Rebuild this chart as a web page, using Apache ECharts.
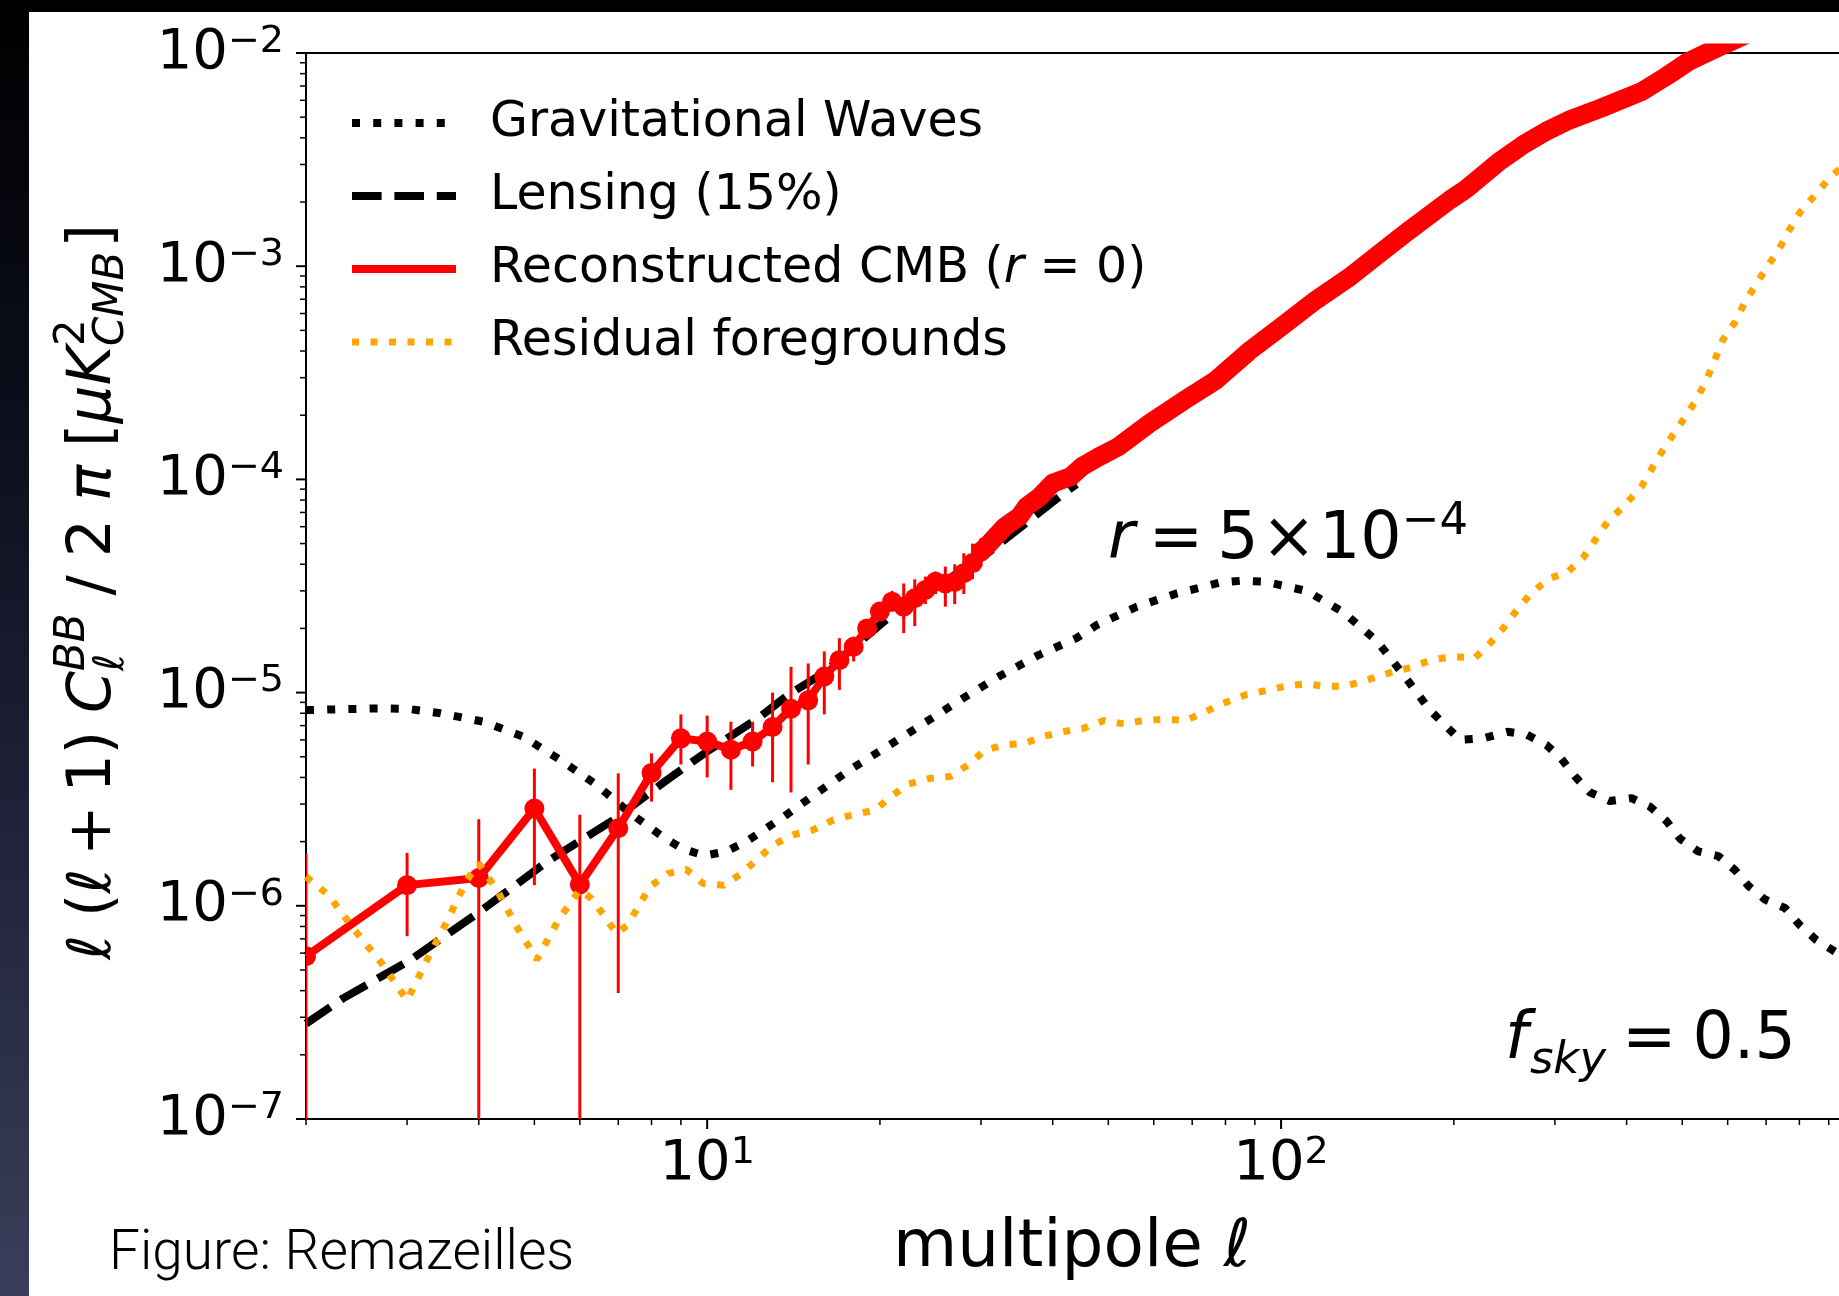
<!DOCTYPE html>
<html><head><meta charset="utf-8">
<script src="https://cdn.jsdelivr.net/npm/echarts/dist/echarts.min.js"></script>
<style>
html,body{margin:0;padding:0;background:#000;width:1839px;height:1296px;overflow:hidden}
#strip{position:absolute;left:0;top:0;width:29px;height:1296px;background:linear-gradient(#000 0%,#0b0d1a 30%,#20233a 65%,#3a3e5a 100%)}
#paper{position:absolute;left:29px;top:12px;width:1810px;height:1284px;background:#fff}
#chart{position:absolute;left:0;top:0;width:1839px;height:1296px}
</style></head><body>
<div id="strip"></div><div id="paper"></div><div id="chart"></div>
<script>
// ---------------- DATA ----------------
const GW_ELL = [2,2.66,3,3.43,4.08,4.79,5.55,6.42,7.34,8.45,9.1,9.9,10.8,11.7,13.6,15.5,17.9,20.8,24.1,27.9,32.4,37.8,44,47.7,56.1,65.8,78.3,85.5,93.8,110.7,127.9,146.8,163.5,181.7,205,225,248,268,290,308,325,345,374,408,440,470,496,533,578,618,652,697,755,802,857,923,1000];
const GW_VAL = [8.28e-6,8.43e-6,8.4e-6,8.0e-6,7.3e-6,6.2e-6,4.83e-6,3.69e-6,2.72e-6,2.07e-6,1.84e-6,1.72e-6,1.8e-6,2.0e-6,2.62e-6,3.37e-6,4.42e-6,5.68e-6,7.3e-6,9.4e-6,1.2e-5,1.5e-5,1.8e-5,2.07e-5,2.53e-5,2.92e-5,3.28e-5,3.35e-5,3.31e-5,3.0e-5,2.4e-5,1.75e-5,1.21e-5,8.28e-6,6.0e-6,6.1e-6,6.55e-6,6.35e-6,5.68e-6,4.89e-6,4.05e-6,3.41e-6,3.1e-6,3.2e-6,2.91e-6,2.49e-6,2.06e-6,1.8e-6,1.71e-6,1.47e-6,1.24e-6,1.07e-6,9.77e-7,8.1e-7,6.9e-7,6.1e-7,5.2e-7];

const LENS_ELL = [2,2.32,3.04,4.02,5.26,6.87,8.51,10,12.2,13.95,15.9,20.8,30.3,41.8,44];
const LENS_VAL = [2.8e-7,3.68e-7,5.57e-7,9.4e-7,1.61e-6,2.53e-6,3.89e-6,5.3e-6,7.5e-6,9.9e-6,1.23e-5,2.27e-5,4.35e-5,8.6e-5,9.5e-5];

const RECON_ELL = [2,3,4,5,6,7,8,9,10,11,12,13,14,15,16,17,18,19,20,21,22,23,24,25,26,27,28,29,30];
const RECON_VAL = [5.8e-7,1.25e-6,1.35e-6,2.86e-6,1.26e-6,2.31e-6,4.2e-6,6.1e-6,5.9e-6,5.4e-6,5.9e-6,6.9e-6,8.4e-6,9.2e-6,1.19e-5,1.42e-5,1.64e-5,2.0e-5,2.4e-5,2.67e-5,2.53e-5,2.77e-5,3.03e-5,3.31e-5,3.25e-5,3.3e-5,3.63e-5,4.05e-5,4.59e-5];
const RECON_LO  = [1e-9,7.2e-7,1e-9,1.25e-6,1e-9,3.9e-7,3.08e-6,4.6e-6,4.0e-6,3.5e-6,4.5e-6,3.8e-6,3.4e-6,4.6e-6,7.9e-6,1.03e-5,1.4e-5,1.85e-5,2.2e-5,2.4e-5,1.9e-5,2.05e-5,2.6e-5,2.9e-5,2.53e-5,2.6e-5,2.9e-5,3.4e-5,3.9e-5];
const RECON_HI  = [1.76e-6,1.77e-6,2.55e-6,4.4e-6,2.67e-6,4.18e-6,5.19e-6,7.9e-6,7.8e-6,7.3e-6,7.3e-6,1.0e-5,1.32e-5,1.37e-5,1.56e-5,1.8e-5,1.83e-5,2.15e-5,2.6e-5,3.0e-5,3.25e-5,3.4e-5,3.5e-5,3.7e-5,3.9e-5,4.0e-5,4.5e-5,5.0e-5,5.3e-5];

const RECON_HIGH_ELL = [30,31,33,35,36,38,40,43,45,48,52,59,68,77,88,101,115,132,151,166,197,210,240,265,290,318,360,425,470,512,564,680];
const RECON_HIGH_VAL = [4.59e-5,5.0e-5,6.0e-5,6.7e-5,7.45e-5,8.3e-5,9.6e-5,1.03e-4,1.15e-4,1.27e-4,1.42e-4,1.83e-4,2.36e-4,2.92e-4,4.0e-4,5.3e-4,6.94e-4,8.93e-4,1.19e-3,1.45e-3,2.05e-3,2.3e-3,3.1e-3,3.73e-3,4.3e-3,4.85e-3,5.5e-3,6.6e-3,7.8e-3,9.1e-3,1.03e-2,1.3e-2];

const FG_ELL = [2,2.19,2.42,2.71,3,3.25,3.52,3.81,4,4.3,4.66,5.05,5.51,6,6.29,6.6,6.95,7.25,7.59,7.95,8.56,9.2,9.85,10.7,11.4,12.2,13.04,14.1,15.3,16.6,17.9,19.6,20.9,22.4,24.4,26.5,28.5,30.5,33,35.8,38.3,41.8,45.3,49.1,53.2,57.6,62.4,68.2,73.2,79.3,86.7,93.8,101.6,110.1,119.3,129.1,141.7,156.6,169.6,183.7,199,218,232,244,257,271,292,316,336,354,371,395,425,457,482,505,529,551,570,589,618,643,674,702,735,765,802,851,904,960];
const FG_VAL = [1.37e-6,1.12e-6,7.8e-7,5.37e-7,3.6e-7,5.57e-7,8.43e-7,1.32e-6,1.58e-6,1.19e-6,7.97e-7,5.6e-7,8.6e-7,1.19e-6,1.08e-6,9.06e-7,7.4e-7,8.1e-7,9.9e-7,1.23e-6,1.42e-6,1.48e-6,1.27e-6,1.25e-6,1.4e-6,1.64e-6,1.93e-6,2.15e-6,2.27e-6,2.53e-6,2.67e-6,2.81e-6,3.25e-6,3.72e-6,3.96e-6,4.04e-6,4.58e-6,5.38e-6,5.68e-6,5.78e-6,6.21e-6,6.56e-6,6.8e-6,7.4e-6,7.13e-6,7.4e-6,7.5e-6,7.4e-6,8.05e-6,8.9e-6,9.75e-6,1.02e-5,1.07e-5,1.1e-5,1.07e-5,1.07e-5,1.15e-5,1.25e-5,1.32e-5,1.43e-5,1.47e-5,1.46e-5,1.72e-5,2.01e-5,2.42e-5,2.87e-5,3.41e-5,3.68e-5,4.3e-5,5.28e-5,6.36e-5,7.45e-5,9.3e-5,1.3e-4,1.62e-4,1.95e-4,2.36e-4,2.93e-4,3.64e-4,4.53e-4,5.46e-4,6.79e-4,8.3e-4,9.9e-4,1.18e-3,1.45e-3,1.79e-3,2.15e-3,2.6e-3,3.0e-3];

const LEGEND_NAMES = ['Gravitational Waves','Lensing (15%)','Reconstructed CMB (r = 0)','Residual foregrounds'];

// axis ranges and tick positions
const X_MIN = 2, X_MAX = 1000, Y_MIN = 1e-7, Y_MAX = 1e-2;
const TICK_MANTISSA = [2,3,4,5,6,7,8,9];
const X_DECADES = [1,10,100];
const X_MAJOR = [10,100];
const Y_DECADES = [1e-7,1e-6,1e-5,1e-4,1e-3];
const Y_MAJOR = [1e-7,1e-6,1e-5,1e-4,1e-3,1e-2];

// line styles
const GW_STYLE = {color: '#000', width: 8, type: [8, 13.2], cap: 'butt'};
const LENS_STYLE = {color: '#000', width: 8, type: [29.6, 12.8], cap: 'butt'};
const RECON_STYLE = {color: '#ff0000', width: 8, type: 'solid'};
const FG_STYLE = {color: '#ffa500', width: 7, type: [7, 11.5], cap: 'butt'};

// ---------------- helpers ----------------
const zip = (a,b) => a.map((v,i) => [v, b[i]]);
const FAM = '"DejaVu Sans"';
const MCTX = document.createElement('canvas').getContext('2d');
function fnt(size, it, fam){ return (it ? 'italic ' : '') + size + 'px ' + (fam || FAM); }
function tw(t, size, it){ MCTX.font = fnt(size, it); return MCTX.measureText(t).width; }
function layout(parts){
  let cur = 0, lastX = 0; const items = [];
  for (const p of parts){
    const w = tw(p.t, p.s, p.it); let x;
    if (p.stack) { x = lastX; } else { x = cur + (p.g || 0); lastX = x; }
    cur = Math.max(cur, x + w); items.push({p, x});
  }
  return {items, width: cur};
}
function mathEls(parts, ox, oy){
  const L = layout(parts);
  return L.items.map(({p, x}) => ({
    type: 'text', x: ox + x, y: oy + (p.dy || 0) - 0.346 * p.s, silent: true,
    style: {text: p.t, font: fnt(p.s, p.it), fill: '#000', align: 'left', verticalAlign: 'middle', textAlign: 'left', textVerticalAlign: 'middle'}
  }));
}
function mathWidth(parts){ return layout(parts).width; }

function supLabel(v, hideAbove){
  const e = Math.log10(v), re = Math.round(e);
  if (Math.abs(e - re) > 1e-6) return '';
  if (hideAbove != null && re > hideAbove) return '';
  return '{b|10}{s|' + (re < 0 ? '\u2212' + (-re) : re) + '}';
}
const tickRich = {
  b: {fontSize: 56, fontFamily: 'DejaVu Sans', color: '#000', lineHeight: 60},
  s: {fontSize: 38, fontFamily: 'DejaVu Sans', color: '#000', lineHeight: 28, verticalAlign: 'top'}
};

// tick data (axis decoration)
const xTicks = [];
X_DECADES.forEach(d => TICK_MANTISSA.forEach(m => xTicks.push([m * d, Y_MIN, 6, 1.5])));
X_MAJOR.forEach(v => xTicks.push([v, Y_MIN, 10, 2]));
const yTicks = [];
Y_DECADES.forEach(d => TICK_MANTISSA.forEach(m => yTicks.push([X_MIN, m * d, 6, 1.5])));
Y_MAJOR.forEach(v => yTicks.push([X_MIN, v, 10, 2]));

// ---------------- text pieces ----------------
const S = 60, s2 = 42;
const Y_PARTS = [
  {t:'\u2113', s:S, it:true},
  {t:'(', s:S, g:18},
  {t:'\u2113', s:S, it:true},
  {t:'+', s:S, g:13},
  {t:'1', s:S, g:13},
  {t:')', s:S},
  {t:'C', s:S, it:true, g:18},
  {t:'\u2113', s:s2, it:true, dy:12},
  {t:'BB', s:s2, it:true, dy:-27, stack:true},
  {t:'/', s:S, g:18},
  {t:'2', s:S, g:18},
  {t:'\u03c0', s:S, it:true, g:18},
  {t:'[', s:S, g:18},
  {t:'\u03bc', s:S, it:true},
  {t:'K', s:S, it:true},
  {t:'2', s:s2, dy:-27},
  {t:'CMB', s:s2, it:true, dy:12, stack:true},
  {t:']', s:S, g:4}
];
const R_PARTS = [
  {t:'r', s:65, it:true},
  {t:'=', s:65, g:14},
  {t:'5', s:65, g:14},
  {t:'\u00d7', s:65, g:3},
  {t:'10', s:65, g:3},
  {t:'\u22124', s:45, dy:-26}
];
const F_PARTS = [
  {t:'f', s:65, it:true},
  {t:'sky', s:45, it:true, dy:13, g:2},
  {t:'=', s:65, g:16},
  {t:'0.5', s:65, g:16}
];
const X_PARTS = [
  {t:'multipole ', s:66},
  {t:'\u2113', s:66, it:true}
];

const yW = mathWidth(Y_PARTS);
const xW = mathWidth(X_PARTS);

const graphics = [
  {type:'group', x:115, y:592 + yW / 2, rotation: Math.PI / 2, children: mathEls(Y_PARTS, 0, 0), z: 100},
  {type:'group', children: mathEls(X_PARTS, 1072 - xW / 2, 1272), z: 100},
  {type:'group', children: mathEls(R_PARTS, 1108, 564), z: 100},
  {type:'group', children: mathEls(F_PARTS, 1505, 1064), z: 100},
  {type:'text', x:109, y:1274 - 0.34 * 55, z: 100, silent:true,
   style:{text:'Figure: Remazeilles', font:'300 55px Roboto, "Liberation Sans", sans-serif', fill:'#000', align:'left', verticalAlign:'middle', textAlign:'left', textVerticalAlign:'middle'}}
];

// ---------------- chart ----------------
const chart = echarts.init(document.getElementById('chart'), null, {renderer: 'canvas', width: 1839, height: 1296});
const blackAxisLine = {show: true, lineStyle: {color: '#000', width: 2}};
chart.setOption({
  animation: false,
  backgroundColor: 'transparent',
  textStyle: {fontFamily: 'DejaVu Sans'},
  grid: {left: 306, top: 53, right: -16, bottom: 177, containLabel: false, outerBoundsMode: 'none'},
  xAxis: [
    {type: 'log', logBase: 10, min: X_MIN, max: X_MAX, axisLine: blackAxisLine, axisTick: {show: false},
     minorTick: {show: false}, splitLine: {show: false},
     axisLabel: {formatter: v => supLabel(v, 2), rich: tickRich, margin: 15, color: '#000', hideOverlap: false}},
    {type: 'log', logBase: 10, min: X_MIN, max: X_MAX, position: 'top', axisLine: blackAxisLine,
     axisTick: {show: false}, axisLabel: {show: false}, splitLine: {show: false}}
  ],
  yAxis: {type: 'log', logBase: 10, min: Y_MIN, max: Y_MAX, axisLine: blackAxisLine, axisTick: {show: false},
    minorTick: {show: false}, splitLine: {show: false},
    axisLabel: {formatter: v => supLabel(v), rich: tickRich, margin: 22, color: '#000', hideOverlap: false}},
  legend: {
    show: true, orient: 'vertical', left: 348, top: 86.5, padding: 0, itemGap: 0,
    itemWidth: 104, itemHeight: 14, selectedMode: false,
    data: [
      {name: LEGEND_NAMES[0], lineStyle: GW_STYLE},
      {name: LEGEND_NAMES[1], lineStyle: LENS_STYLE},
      {name: LEGEND_NAMES[2], lineStyle: RECON_STYLE},
      {name: LEGEND_NAMES[3], lineStyle: FG_STYLE}
    ],
    itemStyle: {opacity: 0},
    formatter: name => name === LEGEND_NAMES[2] ? 'Reconstructed CMB ({i|r} = 0)' : name,
    textStyle: {fontSize: 49, fontFamily: 'DejaVu Sans', color: '#000', lineHeight: 73, padding: [0, 0, 0, 29],
      rich: {i: {fontSize: 49, fontFamily: 'DejaVu Sans', fontStyle: 'italic', color: '#000', lineHeight: 73}}}
  },
  graphic: {elements: graphics},
  series: [
    {name: LEGEND_NAMES[0], type: 'line', data: zip(GW_ELL, GW_VAL), symbol: 'none', showSymbol: false,
     lineStyle: GW_STYLE, itemStyle: {color: '#000'}, z: 2},
    {name: LEGEND_NAMES[1], type: 'line', data: zip(LENS_ELL, LENS_VAL), symbol: 'none', showSymbol: false,
     lineStyle: LENS_STYLE, itemStyle: {color: '#000'}, z: 3},
    {name: 'errorbars', type: 'custom', clip: true, silent: true, z: 4,
     data: RECON_ELL.map((l, i) => [l, RECON_LO[i], RECON_HI[i]]),
     encode: {x: 0, y: [1, 2]},
     renderItem: (params, api) => {
       const a = api.coord([api.value(0), api.value(1)]);
       const b = api.coord([api.value(0), api.value(2)]);
       return {type: 'line', shape: {x1: a[0], y1: a[1], x2: b[0], y2: b[1]}, style: {stroke: '#ff0000', lineWidth: 3}};
     }},
    {name: LEGEND_NAMES[2], type: 'line', data: zip(RECON_ELL, RECON_VAL), symbol: 'none', showSymbol: false,
     lineStyle: RECON_STYLE, itemStyle: {color: '#ff0000'}, z: 5},
    {name: 'markers', type: 'custom', clip: true, silent: true, z: 5,
     data: zip(RECON_ELL, RECON_VAL), encode: {x: 0, y: 1},
     renderItem: (params, api) => {
       const p = api.coord([api.value(0), api.value(1)]);
       return {type: 'circle', shape: {cx: p[0], cy: p[1], r: 10}, style: {fill: '#ff0000'}};
     }},
    {name: 'Reconstructed CMB (high l)', type: 'line', data: zip(RECON_HIGH_ELL, RECON_HIGH_VAL), symbol: 'none', showSymbol: false,
     lineStyle: {color: '#ff0000', width: 19, cap: 'round', join: 'round'}, itemStyle: {color: '#ff0000'}, z: 5},
    {name: LEGEND_NAMES[3], type: 'line', data: zip(FG_ELL, FG_VAL), symbol: 'none', showSymbol: false,
     lineStyle: FG_STYLE, itemStyle: {color: '#ffa500'}, z: 6},
    {name: 'xticks', type: 'custom', silent: true, clip: false, z: 7, data: xTicks, encode: {x: 0, y: 1},
     renderItem: (params, api) => {
       const p = api.coord([api.value(0), api.value(1)]);
       return {type: 'line', shape: {x1: p[0], y1: p[1], x2: p[0], y2: p[1] + api.value(2)}, style: {stroke: '#000', lineWidth: api.value(3)}};
     }},
    {name: 'yticks', type: 'custom', silent: true, clip: false, z: 7, data: yTicks, encode: {x: 0, y: 1},
     renderItem: (params, api) => {
       const p = api.coord([api.value(0), api.value(1)]);
       return {type: 'line', shape: {x1: p[0], y1: p[1], x2: p[0] - api.value(2), y2: p[1]}, style: {stroke: '#000', lineWidth: api.value(3)}};
     }}
  ]
});
</script></body></html>
